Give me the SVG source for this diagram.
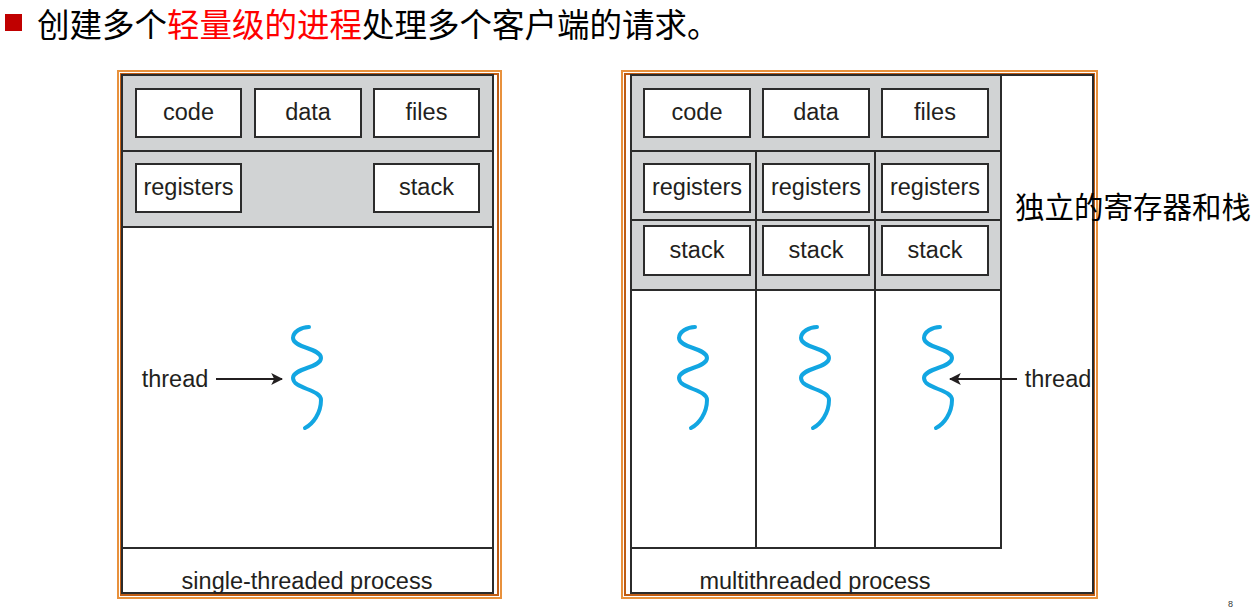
<svg xmlns="http://www.w3.org/2000/svg" width="1252" height="611" viewBox="0 0 1252 611">
<style>
.lbl{font-family:"Liberation Sans",Arial,sans-serif;font-size:23.5px;fill:#231f20;text-anchor:middle}
.box{fill:#fff;stroke:#2b2b2b;stroke-width:2}
.gray{fill:#d1d3d4;stroke:#2b2b2b;stroke-width:2}
.wh{fill:#fff;stroke:#2b2b2b;stroke-width:2}
.o1{fill:none;stroke:#e8913c;stroke-width:2}
.o2{fill:none;stroke:#bf5d14;stroke-width:2}
.thr{fill:none;stroke:#12a6e2;stroke-width:4;stroke-linecap:round}
.arr{stroke:#231f20;stroke-width:2;fill:none}
.cjk{font-family:"Noto Sans CJK SC",sans-serif}
</style>
<defs>
<marker id="ah" viewBox="0 0 10 10" refX="9" refY="5" markerWidth="6" markerHeight="6" orient="auto" markerUnits="strokeWidth">
<path d="M0,0 L10,5 L0,10 L2.5,5 Z" fill="#231f20"/>
</marker>
<path id="wave" d="M2,327 C-6,327 -14,332 -14,338 C-14,348 14,348 14,358 C14,368 -14,368 -14,378 C-14,389 14,389 14,400 C14,413 6,424 -2,428"/>
</defs>
<rect fill="#fff" width="1252" height="611"/>
<g id="title">
<rect x="5" y="14" width="17" height="17" fill="#c00000"/>
<text x="37" y="37" class="cjk" font-size="32.5" fill="#000">创建多个<tspan fill="#ff0000">轻量级的进程</tspan>处理多个客户端的请求。</text>
</g>
<g id="single-process">
<rect class="o1" x="118" y="71" width="383" height="527"/>
<rect class="o2" x="121" y="74" width="377" height="521"/>
<rect class="wh" x="122" y="75" width="371" height="518"/>
<rect class="gray" x="122" y="75" width="371" height="76"/>
<rect class="gray" x="122" y="151" width="371" height="76"/>
<rect class="wh" x="122" y="227" width="371" height="321"/>
<text class="lbl" x="307" y="589">single-threaded process</text>
</g>
<g id="s-code"><rect class="box" x="136" y="89" width="105" height="48"/><text class="lbl" x="188.5" y="120">code</text></g>
<g id="s-data"><rect class="box" x="255" y="89" width="106" height="48"/><text class="lbl" x="308" y="120">data</text></g>
<g id="s-files"><rect class="box" x="374" y="89" width="105" height="48"/><text class="lbl" x="426.5" y="120">files</text></g>
<g id="s-registers"><rect class="box" x="136" y="164" width="105" height="48"/><text class="lbl" x="188.5" y="195">registers</text></g>
<g id="s-stack"><rect class="box" x="374" y="164" width="105" height="48"/><text class="lbl" x="426.5" y="195">stack</text></g>
<g id="s-thread"><use href="#wave" class="thr" x="307"/></g>
<g id="s-thread-label"><text class="lbl" x="175" y="387">thread</text></g>

<g id="multi-process">
<rect class="o1" x="622" y="71" width="475" height="527"/>
<rect class="o2" x="625" y="74" width="469" height="521"/>
<rect class="wh" x="631" y="75" width="462" height="518"/>
<rect class="gray" x="631" y="75" width="370" height="76"/>
<rect class="gray" x="631" y="151" width="125" height="69"/>
<rect class="gray" x="756" y="151" width="119" height="69"/>
<rect class="gray" x="875" y="151" width="126" height="69"/>
<rect class="gray" x="631" y="220" width="125" height="70"/>
<rect class="gray" x="756" y="220" width="119" height="70"/>
<rect class="gray" x="875" y="220" width="126" height="70"/>
<rect class="wh" x="631" y="290" width="125" height="258"/>
<rect class="wh" x="756" y="290" width="119" height="258"/>
<rect class="wh" x="875" y="290" width="126" height="258"/>
<text class="lbl" x="815" y="589">multithreaded process</text>
</g>
<g id="m-code"><rect class="box" x="644" y="89" width="106" height="48"/><text class="lbl" x="697" y="120">code</text></g>
<g id="m-data"><rect class="box" x="763" y="89" width="106" height="48"/><text class="lbl" x="816" y="120">data</text></g>
<g id="m-files"><rect class="box" x="882" y="89" width="106" height="48"/><text class="lbl" x="935" y="120">files</text></g>
<g id="m-reg1"><rect class="box" x="644" y="164" width="106" height="48"/><text class="lbl" x="697" y="195">registers</text></g>
<g id="m-reg2"><rect class="box" x="763" y="164" width="106" height="48"/><text class="lbl" x="816" y="195">registers</text></g>
<g id="m-reg3"><rect class="box" x="882" y="164" width="106" height="48"/><text class="lbl" x="935" y="195">registers</text></g>
<g id="m-stack1"><rect class="box" x="644" y="226" width="106" height="49"/><text class="lbl" x="697" y="258">stack</text></g>
<g id="m-stack2"><rect class="box" x="763" y="226" width="106" height="49"/><text class="lbl" x="816" y="258">stack</text></g>
<g id="m-stack3"><rect class="box" x="882" y="226" width="106" height="49"/><text class="lbl" x="935" y="258">stack</text></g>
<g id="m-thread1"><use href="#wave" class="thr" x="693"/></g>
<g id="m-thread2"><use href="#wave" class="thr" x="815"/></g>
<g id="m-thread3"><use href="#wave" class="thr" x="938"/></g>
<g id="m-thread-label"><text class="lbl" x="1058" y="387">thread</text></g>
<g id="side-note"><text x="1015" y="218" class="cjk" font-size="29.5" fill="#000">独立的寄存器和栈</text></g>
<g id="page-num"><text x="1228" y="607" font-family="Liberation Sans,sans-serif" font-size="9" fill="#333">8</text></g>

<g id="connectors">
<line class="arr" x1="216" y1="379" x2="282" y2="379" marker-end="url(#ah)"/>
<line class="arr" x1="1017" y1="379" x2="950" y2="379" marker-end="url(#ah)"/>
</g>
</svg>
